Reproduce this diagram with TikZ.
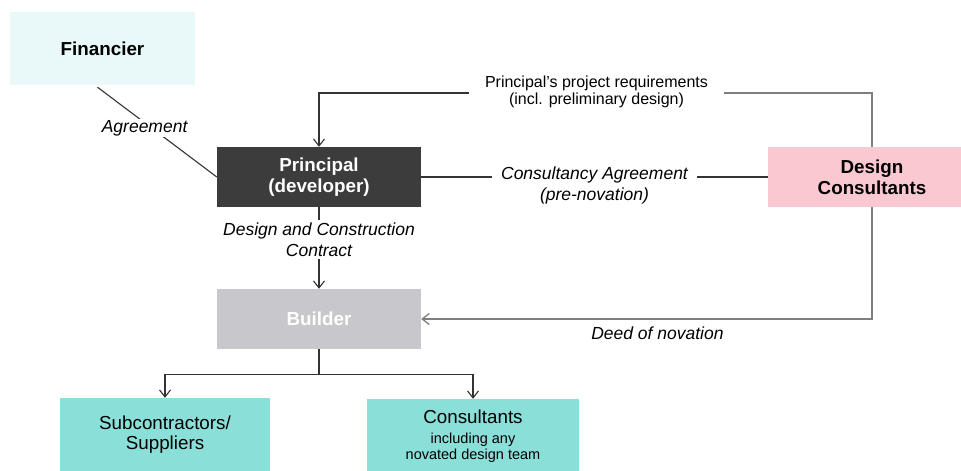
\documentclass[tikz,border=0pt]{standalone}
\usepackage{fontspec}
\setmainfont{Liberation Sans}
\usepackage{tikz}
\usetikzlibrary{positioning}
\usetikzlibrary{arrows.meta}

\definecolor{finblue}{HTML}{E9F8F8}
\definecolor{prindark}{HTML}{3C3C3C}
\definecolor{dcpink}{HTML}{F9C8D0}
\definecolor{bldgray}{HTML}{C8C8CC}
\definecolor{leafteal}{HTML}{8ADFD9}
\definecolor{linedark}{HTML}{333333}
\definecolor{linegray}{HTML}{7F7F7F}

\begin{document}
\begin{tikzpicture}[x=1pt, y=-1pt,
  box/.style={minimum width=204pt, minimum height=60pt, inner sep=0pt, align=center,
    font=\fontsize{18.8pt}{21pt}\selectfont\bfseries},
  leaf/.style={fill=leafteal, minimum width=210pt, minimum height=74pt, inner sep=0pt,
    align=center, font=\fontsize{18.8pt}{20pt}\selectfont},
  lbl/.style={fill=white, inner xsep=4pt, inner ysep=3pt, align=center,
    font=\fontsize{17.5pt}{21pt}\selectfont\itshape},
  txt/.style={fill=white, inner xsep=16pt, inner ysep=2pt, align=center,
    font=\fontsize{16pt}{16.5pt}\selectfont},
  ln/.style={draw=linedark, line width=1.1pt},
  lngray/.style={draw=linegray, line width=1.3pt},
  arr/.style={ln, -{Straight Barb[length=7pt, width=11pt]}}]

\useasboundingbox (0,0) rectangle (961,471);
\clip (0,0) rectangle (961,471);

\def\drop{25};

% parties
\node[box, fill=finblue, minimum width=185pt, minimum height=73pt] (fin) at (102.5,48.5) {Financier};
\node[box, fill=prindark, text=white] (prin) at (319,177) {Principal\\(developer)};
\node[box, fill=dcpink, minimum width=208pt] (dc) at (872,177) {Design\\Consultants};
\node[box, fill=bldgray, text=white] (bld) at (319,319) {Builder};
\node[leaf] (sub) at (165,435) {Subcontractors/\\Suppliers};
\node[leaf, minimum width=212pt, font=\fontsize{18.8pt}{16pt}\selectfont] (cons) at (473,436)
  {Consultants\\[4pt]{\fontsize{14.5pt}{16pt}\selectfont including any}\\{\fontsize{14.5pt}{16pt}\selectfont novated design team}};

% agreements
\draw[ln] ([xshift=-5pt, yshift=-2pt]fin.south) -- (prin.west) node[lbl, pos=0.42, xshift=-3pt, yshift=-3pt, inner sep=1pt] (agr) {Agreement};
\draw[ln] (prin.east) -- (dc.west) node[lbl, midway, yshift=-8.5pt, inner xsep=9pt] (cagr) {Consultancy Agreement\\(pre-novation)};
\draw[arr] (prin.south) -- (bld.north) node[lbl, midway, yshift=8.5pt] (dcc) {Design and Construction\\Contract};

% requirements from the design consultants
\node[txt] (req) at (596.5,92) {Principal’s project requirements\\(incl. preliminary design)};
\draw[lngray] (dc.north) |- ([yshift=-1pt]req.east);
\draw[arr] ([yshift=-1pt]req.west) -| (prin.north);

% novation
\draw[lngray, -{Straight Barb[length=7pt, width=11pt]}] (dc.south) |- (bld.east)
  node[pos=0.738, below=7pt, inner sep=0pt, font=\fontsize{17.5pt}{21pt}\selectfont\itshape] (deed) {Deed of novation};

% builder's own contracts
\draw[ln] (bld.south) -- ++(0,\drop) coordinate (fork);
\draw[arr] (fork) -| (sub.north);
\draw[arr] (fork) -| (cons.north);
%\draw[ln] (sub.east) -- (cons.west);

\end{tikzpicture}
\end{document}
